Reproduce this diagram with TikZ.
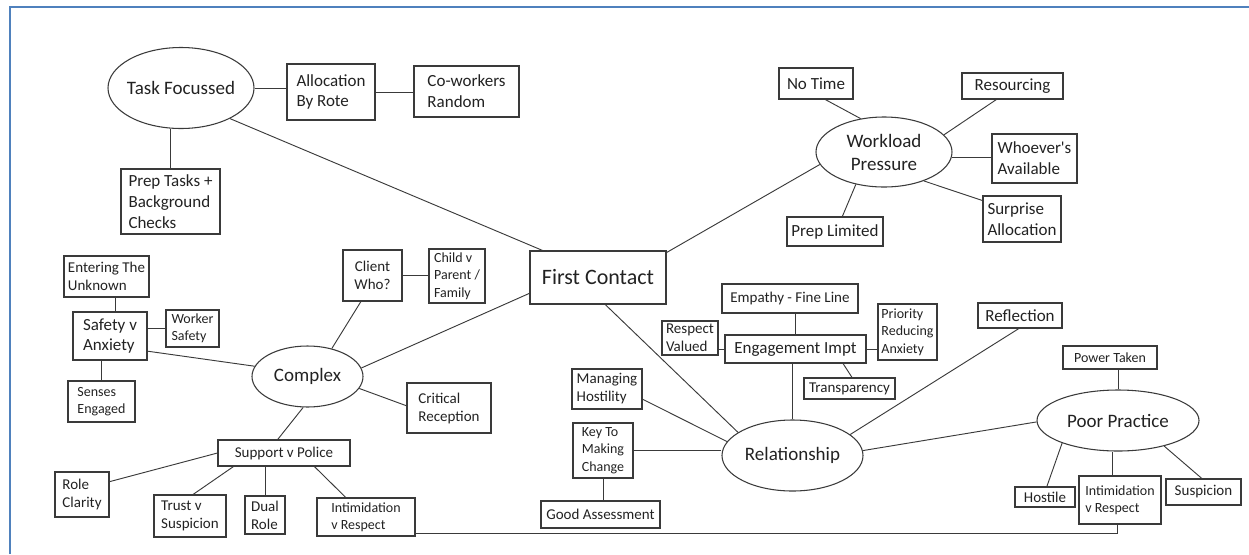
\documentclass[tikz,border=0pt]{standalone}
\usepackage{fontspec}
\setmainfont{Carlito}
\usetikzlibrary{shapes.geometric,calc}
\definecolor{frameblue}{HTML}{4F81BD}
\definecolor{ink}{HTML}{222222}
\definecolor{edge}{HTML}{3A3A3A}
\tikzset{
  box/.style={draw=edge, line width=0.8pt, rectangle, inner sep=0pt, align=left, text=ink},
  oval/.style={draw=edge, line width=0.8pt, ellipse, inner sep=0pt, align=center, text=ink},
  wh/.style 2 args={minimum width=#1*0.75pt, minimum height=#2*0.75pt},
  link/.style={draw=edge, line width=0.7pt},
  frame/.style={draw=frameblue, line width=1.5pt},
  f14/.style={font=\fontsize{10.5}{13.1}\selectfont},
  f15/.style={font=\fontsize{11.25}{13.5}\selectfont},
  f17/.style={font=\fontsize{12.75}{15.6}\selectfont},
  f19/.style={font=\fontsize{14.25}{17.25}\selectfont},
  f22/.style={font=\fontsize{16.5}{20}\selectfont}
}
\begin{document}
\begin{tikzpicture}[x=0.75pt,y=-0.75pt]
\useasboundingbox (0,0) rectangle (1249,554);
\draw[frame] (10,554) -- (10,6.5) -- (1249,6.5);

% top left cluster
\node[oval,wh={146}{81},f19] (tf) at (181,88) {\makebox[0pt]{Task Focussed}};
\node[box,wh={88}{56},f17] (abr) at (331,92) {Allocation\\By Rote};
\node[box,wh={105}{51},f17] (cwr) at (466.5,91.5) {Co-workers\\Random};
\node[box,wh={99}{65},f17] (ptb) at (170.5,201.5) {Prep Tasks +\\Background\\Checks};

% centre
\node[box,wh={136}{53},f22] (fc) at (598,277.5) {First Contact};

% workload cluster
\node[box,wh={74}{31},f17] (nt) at (816,83.5) {No Time};
\node[oval,wh={136}{70},f19] (wp) at (884,152) {Workload\\Pressure};
\node[box,wh={101}{26},f17] (res) at (1012.5,86) {Resourcing};
\node[box,wh={85}{49},f17] (wa) at (1034.5,158.5) {Whoever\textquotesingle s\\Available};
\node[box,wh={78}{46},f17] (sa) at (1022,219) {Surprise\\Allocation};
\node[box,wh={96}{29},f17] (pl) at (835,231.5) {Prep Limited};

% complex cluster
\node[box,wh={85}{41},f15] (etu) at (106.5,276.5) {Entering The\\Unknown};
\node[box,wh={74}{48},f17] (sva) at (110,336) {Safety v\\Anxiety};
\node[box,wh={53}{37},f14] (ws) at (192.5,328.5) {Worker\\Safety};
\node[box,wh={67}{41},f14] (se) at (101.5,401.5) {Senses\\Engaged};
\node[oval,wh={111}{61},f19] (cx) at (307.5,376.5) {\makebox[0pt]{Complex}};
\node[box,wh={59}{51},f15,align=center] (cw) at (372.5,275.5) {Client\\Who?};
\node[box,wh={56}{54},f14] (cpf) at (457,276) {Child v\\Parent /\\Family};
\node[box,wh={84}{50},f15] (cr) at (449,408) {Critical\\Reception};
\node[box,wh={132}{26},f15] (svp) at (284,453) {Support v Police};
\node[box,wh={54}{45},f15] (rc) at (82,494.5) {Role\\Clarity};
\node[box,wh={72}{42},f15] (tvs) at (190,516) {Trust v\\Suspicion};
\node[box,wh={40}{38},f15] (dr) at (265,515) {Dual\\Role};
\node[box,wh={98}{38},f14] (ivr1) at (366,517) {Intimidation\\v Respect};

% relationship cluster
\node[box,wh={136}{29},f15] (emp) at (790,298.5) {Empathy - Fine Line};
\node[box,wh={141}{28},f17] (ei) at (795.5,349) {Engagement Impt};
\node[box,wh={56}{34},f15] (rv) at (690,338) {Respect\\Valued};
\node[box,wh={59}{56},f14] (pra) at (907.5,332) {Priority\\Reducing\\Anxiety};
\node[box,wh={91}{21},f15] (tr) at (849.5,388.5) {Transparency};
\node[box,wh={70}{40},f15] (mh) at (607,389) {Managing\\Hostility};
\node[box,wh={60}{55},f14] (ktm) at (603,450.5) {Key To\\Making\\Change};
\node[box,wh={119}{27},f15] (ga) at (600.5,514.5) {Good Assessment};
\node[oval,wh={141}{71},f19] (rel) at (792.5,455.5) {\makebox[0pt]{Relationship}};
\node[box,wh={84}{25},f17] (ref) at (1020,315.5) {Reflection};

% poor practice cluster
\node[box,wh={94}{23},f14] (pt) at (1110,357.5) {Power Taken};
\node[oval,wh={162}{61},f19] (pp) at (1118,420.5) {\makebox[0pt]{Poor Practice}};
\node[box,wh={60}{20},f15] (ho) at (1045,497) {Hostile};
\node[box,wh={82}{48},f14] (ivr2) at (1120,500) {Intimidation\\v Respect};
\node[box,wh={75}{26},f15] (su) at (1203.5,492) {Suspicion};

% connectors
\draw[link] (tf.east) -- (tf.east -| abr.west);
\draw[link] (abr.east) -- (abr.east -| cwr.west);
\draw[link] (ptb.north) -- (ptb.north |- tf.south);
\draw[link] (tf.-32) -- (fc.154);
\draw[link] (nt.-60) -- (wp.125);
\draw[link] (res.220) -- (wp.16);
\draw[link] (wp.-5) -- (wp.-5 -| wa.west);
\draw[link] (wp.-36) -- (sa.155);
\draw[link] (wp.229) -- (pl.64);
\draw[link] (wp.191) -- (fc.20);
\draw[link] (cx.9) -- (fc.193);
\draw[link] (fc.-75) -- (rel.157);

\draw[link] (etu.-67.5) -- (etu.-67.5 |- sva.north);
\draw[link] (ws.west) -- (ws.west -| sva.east);
\draw[link] (se.north) -- (se.north |- sva.south);
\draw[link] (sva.-22) -- (cx.169);
\draw[link] (cx.49) -- (cw.246);
\draw[link] (cw.east) -- (cw.east -| cpf.west);
\draw[link] (cx.-13) -- (cr.177);
\draw[link] (cx.262) -- (svp.115);
\draw[link] (svp.west) -- (rc.25);
\draw[link] (svp.195.5) -- (tvs.82);
\draw[link] (dr.north) -- (dr.north |- svp.south);
\draw[link] (svp.-24) -- (ivr1.136.5);
\draw[link] ([yshift=2.25pt]ivr1.south east) -| ([xshift=-2.25pt]ivr2.south);

\draw[link] (ei.north) -- (ei.north |- emp.south);
\draw[link] (ei.west) -- (ei.west -| rv.east);
\draw[link] (ei.east) -- (ei.east -| pra.west);
\draw[link] (ei.-17.5) -- (tr.77);
\draw[link] (rel.north) -- (rel.north |- ei.south);
\draw[link] (mh.-16) -- (rel.168);
\draw[link] (ktm.east) -- (ktm.east -| rel.west);
\draw[link] (ktm.south) -- (ktm.south |- ga.north);
\draw[link] (rel.20) -- (ref.-95);
\draw[link] (rel.4) -- (pp.181);

\draw[link] (pp.north) -- (pp.north |- pt.south);
\draw[link] (pp.202.5) -- (ho.80);
\draw[link] (ivr2.108.4) -- (ivr2.108.4 |- pp.south);
\draw[link] (pp.-29) -- (su.97);
\end{tikzpicture}
\end{document}
